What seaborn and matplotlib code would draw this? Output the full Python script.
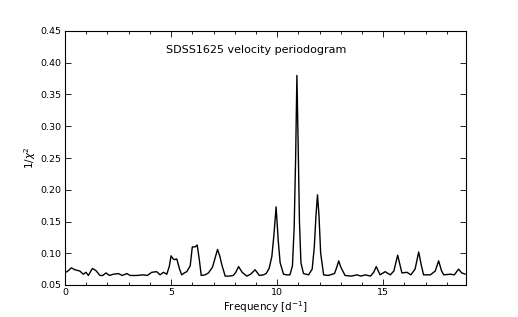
import numpy as np
import pandas as pd
import seaborn as sns
import matplotlib.pyplot as plt
from matplotlib.ticker import MultipleLocator

# Periodogram
freq = [0.0, 0.1, 0.3, 0.47, 0.7, 0.86, 0.99, 1.1, 1.29, 1.45, 1.65, 1.78, 1.93,
        2.1, 2.28, 2.52, 2.7, 2.91, 3.07, 3.38, 3.69, 3.88, 4.09, 4.32, 4.48,
        4.64, 4.8, 4.92, 5.0, 5.1, 5.16, 5.27, 5.4, 5.5, 5.62, 5.74, 5.9, 6.0,
        6.13, 6.23, 6.33, 6.42, 6.6, 6.76, 6.95, 7.19, 7.3, 7.39, 7.55, 7.75,
        7.93, 8.05, 8.18, 8.35, 8.57, 8.75, 8.96, 9.16, 9.35, 9.48, 9.62, 9.75,
        9.85, 9.95, 10.05, 10.14, 10.3, 10.45, 10.6, 10.72, 10.8, 10.87, 10.93,
        10.99, 11.05, 11.12, 11.24, 11.48, 11.65, 11.75, 11.83, 11.9, 11.97,
        12.05, 12.19, 12.4, 12.7, 12.8, 12.9, 13.0, 13.2, 13.5, 13.76, 13.95,
        14.15, 14.4, 14.55, 14.67, 14.85, 15.09, 15.33, 15.5, 15.68, 15.8,
        15.88, 16.12, 16.3, 16.5, 16.67, 16.8, 16.9, 17.05, 17.22, 17.45,
        17.61, 17.75, 17.85, 18.16, 18.35, 18.55, 18.7, 18.87]
power = [0.070, 0.071, 0.077, 0.074, 0.072, 0.067, 0.070, 0.065, 0.076, 0.073,
         0.065, 0.065, 0.069, 0.065, 0.067, 0.068, 0.065, 0.068, 0.065, 0.065,
         0.066, 0.065, 0.070, 0.071, 0.066, 0.070, 0.067, 0.080, 0.096, 0.091,
         0.090, 0.091, 0.075, 0.066, 0.069, 0.071, 0.080, 0.110, 0.110, 0.113,
         0.090, 0.065, 0.066, 0.069, 0.078, 0.106, 0.095, 0.082, 0.064, 0.064,
         0.065, 0.070, 0.079, 0.070, 0.064, 0.067, 0.074, 0.065, 0.066, 0.068,
         0.076, 0.095, 0.130, 0.173, 0.120, 0.085, 0.067, 0.066, 0.066, 0.080,
         0.140, 0.250, 0.380, 0.270, 0.150, 0.085, 0.068, 0.066, 0.075, 0.110,
         0.160, 0.192, 0.160, 0.100, 0.066, 0.065, 0.068, 0.077, 0.088, 0.078,
         0.065, 0.064, 0.066, 0.064, 0.066, 0.064, 0.070, 0.079, 0.066, 0.071,
         0.066, 0.072, 0.097, 0.080, 0.069, 0.070, 0.066, 0.075, 0.102, 0.080,
         0.066, 0.066, 0.066, 0.072, 0.088, 0.072, 0.066, 0.067, 0.066, 0.075,
         0.069, 0.067]

df = pd.DataFrame({'freq': freq, 'power': power})

sns.set_style("ticks")
plt.rcParams['font.family'] = ['DejaVu Sans']
plt.rcParams['text.color'] = 'black'
plt.rcParams['axes.labelcolor'] = 'black'
plt.rcParams['xtick.color'] = 'black'
plt.rcParams['ytick.color'] = 'black'
plt.rcParams['axes.edgecolor'] = 'black'

fig = plt.figure(figsize=(5.18, 3.17), dpi=100)
ax = fig.add_axes([65 / 518, 1 - 285 / 317, 401 / 518, 254 / 317])

sns.lineplot(data=df, x='freq', y='power', color='black', linewidth=1.0, ax=ax)

ax.set_xlim(0, 18.9)
ax.set_ylim(0.05, 0.45)
ax.xaxis.set_major_locator(MultipleLocator(5))
ax.xaxis.set_minor_locator(MultipleLocator(1))
ax.yaxis.set_major_locator(MultipleLocator(0.05))
ax.tick_params(which='both', direction='in', top=True, right=True,
               labelsize=6.8, width=0.6, pad=2.5)
ax.tick_params(which='major', length=4)
ax.tick_params(which='minor', length=2)
for s in ax.spines.values():
    s.set_linewidth(0.8)

ax.set_xlabel('Frequency [d$^{-1}$]', fontsize=7.5, labelpad=1)
ax.set_ylabel('1/$\\chi^2$', fontsize=7.5, labelpad=2)
ax.text(0.476, 0.925, 'SDSS1625 velocity periodogram', transform=ax.transAxes,
        ha='center', va='center', fontsize=8)

fig.savefig('out.png', dpi=100)
